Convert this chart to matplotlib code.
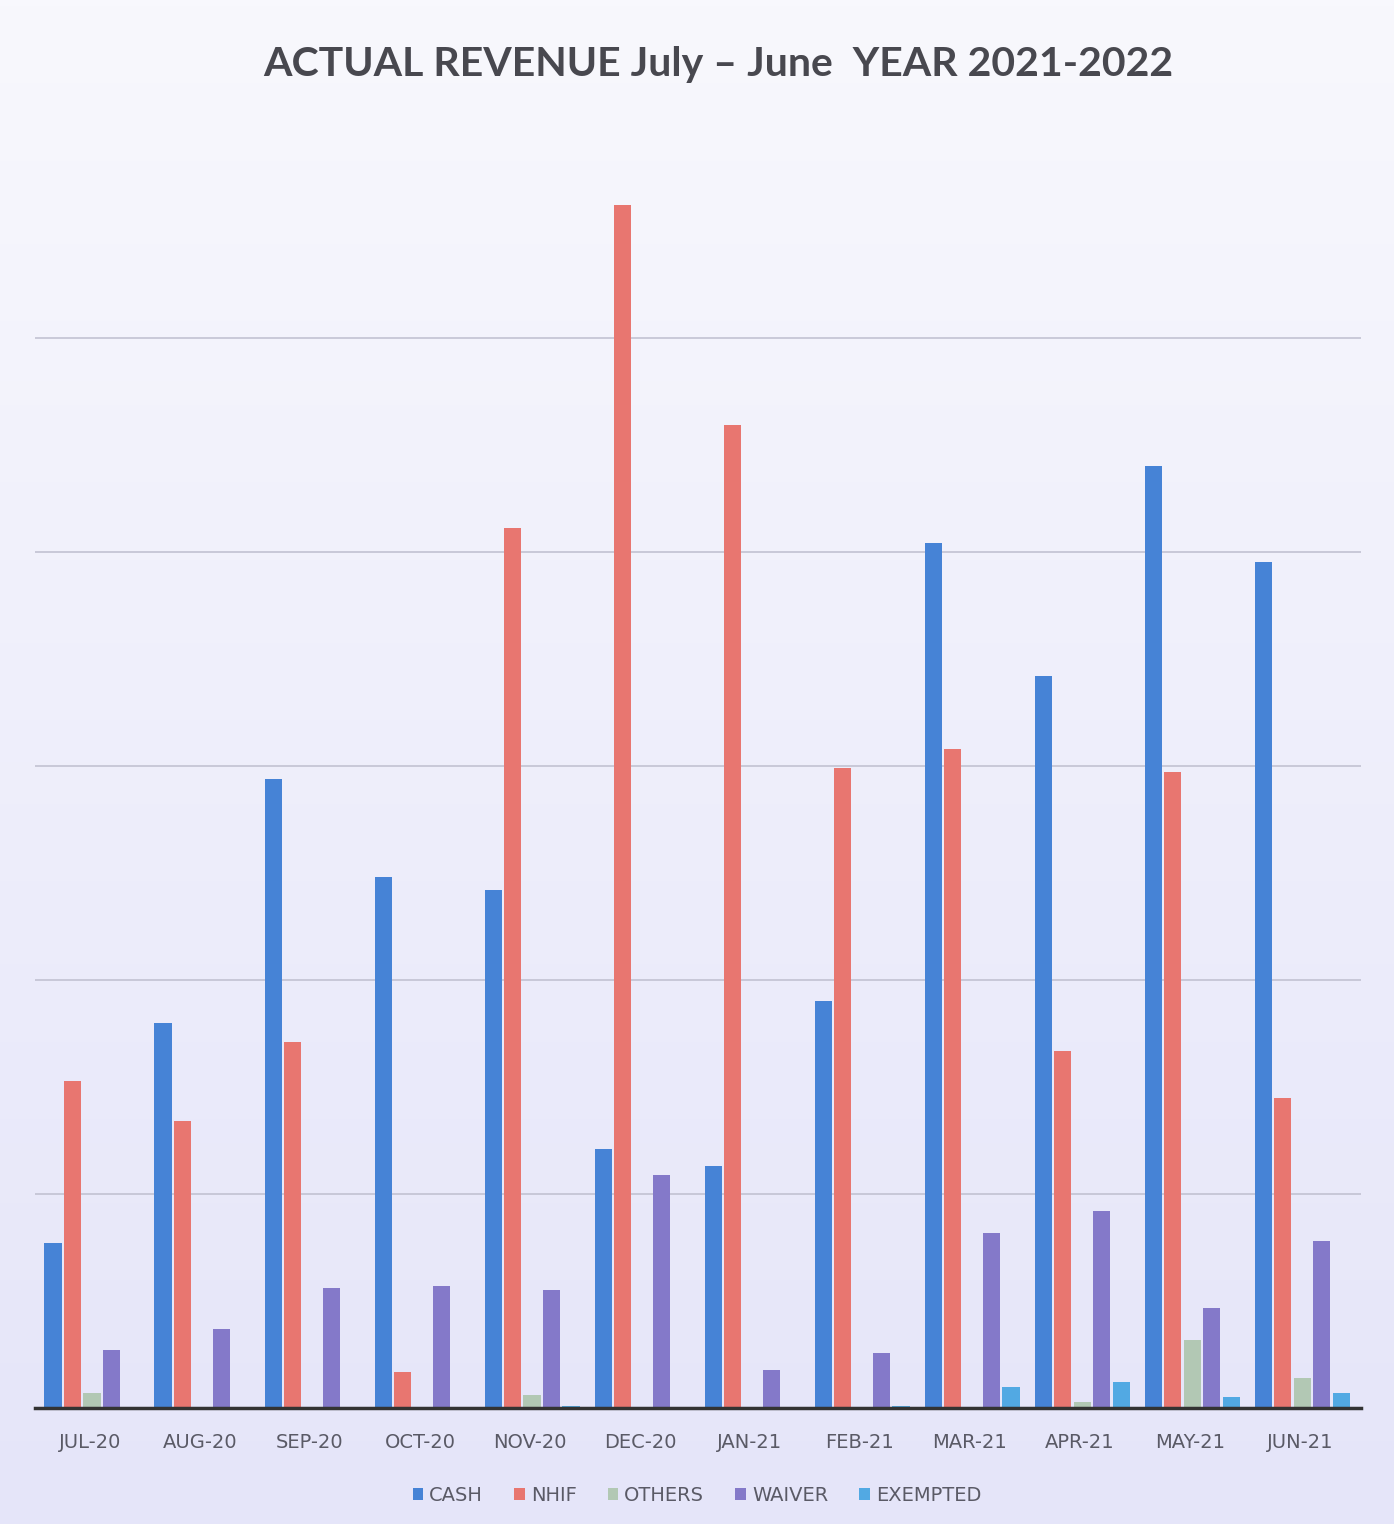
import numpy as np
import matplotlib
matplotlib.use("Agg")
import matplotlib.pyplot as plt

months = ["JUL-20", "AUG-20", "SEP-20", "OCT-20", "NOV-20", "DEC-20",
          "JAN-21", "FEB-21", "MAR-21", "APR-21", "MAY-21", "JUN-21"]

# values (one gridline = 100)
cash     = [77, 180, 294, 248, 242, 121, 113, 190, 404, 342, 440, 395]
nhif     = [153, 134, 171, 17, 411, 562, 459, 299, 308, 167, 297, 145]
others   = [7, 0, 0, 0, 6, 0, 0, 0, 0, 3, 32, 14]
waiver   = [27, 37, 56, 57, 55, 109, 18, 26, 82, 92, 47, 78]
exempted = [0, 0, 0, 0, 1, 0, 0, 1, 10, 12, 5, 7]

series = ["CASH", "NHIF", "OTHERS", "WAIVER", "EXEMPTED"]
colors = ["#4683d6", "#e87670", "#b2c8b4", "#8479c9", "#52a9e3"]

fig = plt.figure(figsize=(13.94, 15.24), dpi=100)
fig.patch.set_facecolor("#ececf9")

# faint page gradient behind the chart
bg = fig.add_axes([0, 0, 1, 1], zorder=-1)
grad = np.linspace(0, 1, 256).reshape(-1, 1)
cmap = matplotlib.colors.LinearSegmentedColormap.from_list("bg", ["#f8f8fd", "#e5e5f9"])
bg.imshow(grad, aspect="auto", cmap=cmap, extent=[0, 1, 0, 1])
bg.axis("off")

ax = fig.add_axes([0.025, 0.076, 0.951, 0.843])
ax.set_facecolor("none")

x = np.arange(len(months))
step = 0.177
width = 0.157
data = [cash, nhif, others, waiver, exempted]
for i, (name, vals) in enumerate(zip(series, data)):
    ax.bar(x + (i - 2) * step, vals, width, color=colors[i], label=name, zorder=3)

ax.set_xlim(-0.52, 11.53)
ax.set_ylim(0, 600)
ax.set_yticks([100, 200, 300, 400, 500])
ax.yaxis.grid(True, color="#c2c2d2", lw=1.2, zorder=1)
ax.tick_params(axis="y", left=False, labelleft=False)
ax.tick_params(axis="x", length=0, pad=18, labelsize=14, labelcolor="#5a5a66")
ax.set_xticks(x - 0.02)
ax.set_xticklabels(months)
for s in ["top", "right", "left"]:
    ax.spines[s].set_visible(False)
ax.spines["bottom"].set_color("#333333")
ax.spines["bottom"].set_linewidth(2.5)
ax.spines["bottom"].set_zorder(4)

fig.text(0.515, 0.958, "ACTUAL REVENUE July \u2013 June  YEAR 2021-2022",
         ha="center", va="center", fontsize=29.5, fontweight="bold",
         color="#48484f", family="Lato")

leg = fig.legend(loc="center", bbox_to_anchor=(0.5, 0.019), ncol=5,
                 frameon=False, fontsize=14, handlelength=0.55, handleheight=0.55,
                 handletextpad=0.3, columnspacing=1.6)
for t in leg.get_texts():
    t.set_color("#5a5a66")

fig.savefig("out.png", dpi=100, facecolor=fig.get_facecolor())
